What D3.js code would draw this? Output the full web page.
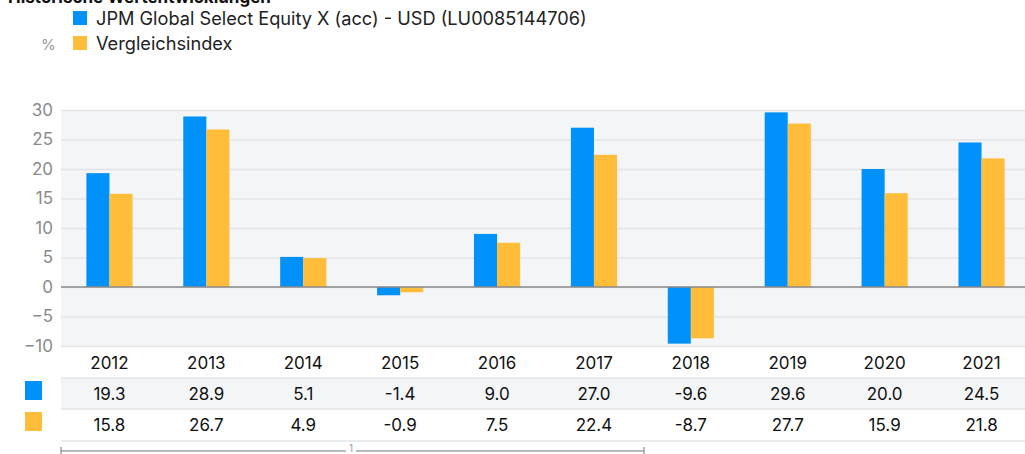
<!DOCTYPE html>
<html>
<head>
<meta charset="utf-8">
<script src="https://cdn.jsdelivr.net/npm/d3@7"></script>
<style>
  body { margin: 0; background: #fff; }
  svg { font-family: Inter, "Noto Sans", sans-serif; display: block; }
</style>
</head>
<body>
<svg id="chart" width="1025" height="454"></svg>
<script>
// data
const years = ["2012", "2013", "2014", "2015", "2016", "2017", "2018", "2019", "2020", "2021"];
const fund = [19.3, 28.9, 5.1, -1.4, 9.0, 27.0, -9.6, 29.6, 20.0, 24.5];
const bench = [15.8, 26.7, 4.9, -0.9, 7.5, 22.4, -8.7, 27.7, 15.9, 21.8];
const yTicks = [30, 25, 20, 15, 10, 5, 0, -5, -10];
const seriesNames = ["JPM Global Select Equity X (acc) - USD (LU0085144706)", "Vergleichsindex"];
const colors = ["#0091fb", "#ffbd3a"];

const svg = d3.select("#chart");
const font = "Inter, sans-serif";

// plot geometry
const plotLeft = 61, plotRight = 1030, plotTop = 110, plotBottom = 346;

const x = d3.scaleBand().domain(years).range([plotLeft, plotRight]).paddingInner(0).paddingOuter(0);
const inner = d3.scaleBand().domain([0, 1]).range([0, x.bandwidth()]).paddingInner(0).paddingOuter(1.1);
const y = d3.scaleLinear().domain([-10, 30]).range([plotBottom, plotTop]);

// title (cut off at top, as in the original)
svg.append("text")
  .attr("x", 8).attr("y", 3)
  .attr("font-size", 17).attr("font-weight", "bold").attr("fill", "#111")
  .text("Historische Wertentwicklungen");

// legend
seriesNames.forEach((name, i) => {
  const ly = 11 + i * 25;
  svg.append("rect").attr("x", 73).attr("y", ly).attr("width", 14).attr("height", 14).attr("fill", colors[i]);
  svg.append("text").attr("x", 96).attr("y", ly + 14)
    .attr("font-size", 18.2).attr("fill", "#222").text(name);
});
svg.append("text").attr("x", 41).attr("y", 50).attr("font-size", 15).attr("fill", "#999").text("%");

// plot background
svg.append("rect").attr("x", plotLeft).attr("y", plotTop)
  .attr("width", plotRight - plotLeft).attr("height", plotBottom - plotTop)
  .attr("fill", "#f4f5f7");

// gridlines + y labels
const yAxis = d3.axisLeft(y).tickValues(yTicks).tickSize(-(plotRight - plotLeft)).tickPadding(8);
const ya = svg.append("g").attr("transform", `translate(${plotLeft},0)`).call(yAxis);
ya.select(".domain").remove();
ya.selectAll(".tick line").attr("stroke", "#e3e4e7").attr("stroke-width", 1.5);
ya.selectAll(".tick text").attr("font-size", 17).attr("fill", "#8a8a8a").attr("font-family", font);

// bars
const groups = svg.append("g").selectAll("g").data(years).join("g")
  .attr("transform", d => `translate(${x(d)},0)`);
[fund, bench].forEach((vals, s) => {
  groups.append("rect")
    .attr("x", inner(s))
    .attr("width", inner.bandwidth())
    .attr("y", (d, i) => y(Math.max(0, vals[i])))
    .attr("height", (d, i) => Math.abs(y(vals[i]) - y(0)))
    .attr("fill", colors[s]);
});

// zero line
svg.append("line").attr("x1", plotLeft).attr("x2", plotRight).attr("y1", y(0)).attr("y2", y(0))
  .attr("stroke", "#8a8a8a").attr("stroke-width", 1.5);

// table below
const rowTop = [346, 378, 409];
const rowH = 31;
svg.append("rect").attr("x", plotLeft).attr("y", rowTop[1]).attr("width", plotRight - plotLeft).attr("height", rowH)
  .attr("fill", "#f4f5f7");
[378, 409, 441].forEach(ly => {
  svg.append("line").attr("x1", plotLeft).attr("x2", plotRight).attr("y1", ly).attr("y2", ly)
    .attr("stroke", "#e3e4e7").attr("stroke-width", 1.5);
});

const xAxis = d3.axisBottom(x).tickSize(0).tickPadding(0);
const xa = svg.append("g").attr("transform", `translate(0,${rowTop[0] + 23})`).call(xAxis);
xa.select(".domain").remove();
xa.selectAll(".tick text").attr("dy", 0).attr("font-size", 17).attr("fill", "#111")
  .attr("font-family", font);

[fund, bench].forEach((vals, s) => {
  svg.append("rect").attr("x", 25).attr("y", rowTop[s + 1] + 3).attr("width", 17).attr("height", 19)
    .attr("fill", colors[s]);
  svg.append("g").selectAll("text").data(vals).join("text")
    .attr("x", (d, i) => x(years[i]) + x.bandwidth() / 2)
    .attr("y", rowTop[s + 1] + 22)
    .attr("text-anchor", "middle")
    .attr("font-size", 17).attr("fill", "#111")
    .text(d => d.toFixed(1));
});

// bracket line at the bottom
const bx1 = plotLeft, bx2 = 644, by = 451;
svg.append("line").attr("x1", bx1).attr("x2", bx2).attr("y1", by).attr("y2", by).attr("stroke", "#777");
svg.append("line").attr("x1", bx1).attr("x2", bx1).attr("y1", by - 4).attr("y2", by + 4).attr("stroke", "#777");
svg.append("line").attr("x1", bx2).attr("x2", bx2).attr("y1", by - 4).attr("y2", by + 4).attr("stroke", "#777");
svg.append("rect").attr("x", 346).attr("y", by - 6).attr("width", 10).attr("height", 9).attr("fill", "#fff");
svg.append("text").attr("x", 351).attr("y", by + 1).attr("text-anchor", "middle")
  .attr("font-size", 10).attr("fill", "#999").text("1");
</script>
</body>
</html>
